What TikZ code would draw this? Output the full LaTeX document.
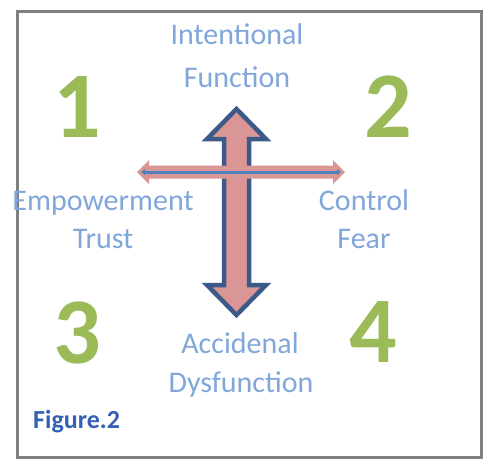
\documentclass[tikz,border=0pt]{standalone}
\usepackage{fontspec}
\setmainfont{Carlito}
\usepackage{xcolor}
\definecolor{framegray}{RGB}{128, 128, 128}
\definecolor{arrowpink}{RGB}{217, 150, 148}
\definecolor{arrowdark}{RGB}{59, 89, 137}
\definecolor{axisblue}{RGB}{79, 129, 189}
\definecolor{wordblue}{RGB}{128, 166, 218}
\definecolor{digitgreen}{RGB}{155, 187, 89}
\definecolor{captionblue}{RGB}{52, 96, 180}
\usetikzlibrary{arrows.meta}
\tikzset{
    wordart/.style={anchor=base, inner sep=0pt, text=wordblue, font=\fontsize{30}{30}\selectfont},
    quadrant/.style={anchor=base, inner sep=0pt, text=digitgreen, font=\fontsize{94}{94}\selectfont\bfseries},
    caption/.style={anchor=base west, inner sep=0pt, text=captionblue, font=\fontsize{26}{26}\selectfont\bfseries}
}

\begin{document}
\begin{tikzpicture}[x=1pt, y=-1pt]
    \useasboundingbox (0,0) rectangle (490,459);
    % frame
    \draw[framegray, line width=3pt] (17.5,11.5) rectangle (481.5,457.5);

    % vertical arrow
    \draw[arrowdark, fill=arrowpink, line width=4.5pt, line join=miter]
        (236.5,109) -- (266,139) -- (249,139) -- (249,285) -- (266,285)
        -- (236.5,315) -- (207,285) -- (224,285) -- (224,139) -- (207,139) -- cycle;

    % horizontal arrow
    \fill[arrowpink]
        (137,172) -- (149,160) -- (149,165.5) -- (333,165.5) -- (333,160)
        -- (345,172) -- (333,184) -- (333,178.5) -- (149,178.5) -- (149,184) -- cycle;
    \coordinate (axisL) at (141,172);
    \coordinate (axisR) at (341,172);
    \draw[axisblue, line width=3pt, {Triangle[length=4pt, width=6pt]}-{Triangle[length=4pt, width=6pt]}] (axisL) -- (axisR);

    % labels
    \node[wordart] (intent) at (237,44) {Intentional};
    \node[wordart] (func) at (237,87) {Function};
    \node[wordart] (empower) at (103,210) {Empowerment};
    \node[wordart] (trust) at (103,248) {Trust};
    \node[wordart] (control) at (364,210) {Control};
    \node[wordart] (fear) at (364,248) {Fear};
    \node[wordart] (accid) at (240,353) {Accidenal};
    \node[wordart] (dysfunc) at (241,392) {Dysfunction};

    % quadrants
    \node[quadrant] (q1) at (77,137) {1};
    \node[quadrant] (q2) at (388,137) {2};
    \node[quadrant] (q3) at (77,363) {3};
    \node[quadrant] (q4) at (373,362) {4};

    \node[caption] (fig) at (33,428) {Figure.2};
\end{tikzpicture}
\end{document}
